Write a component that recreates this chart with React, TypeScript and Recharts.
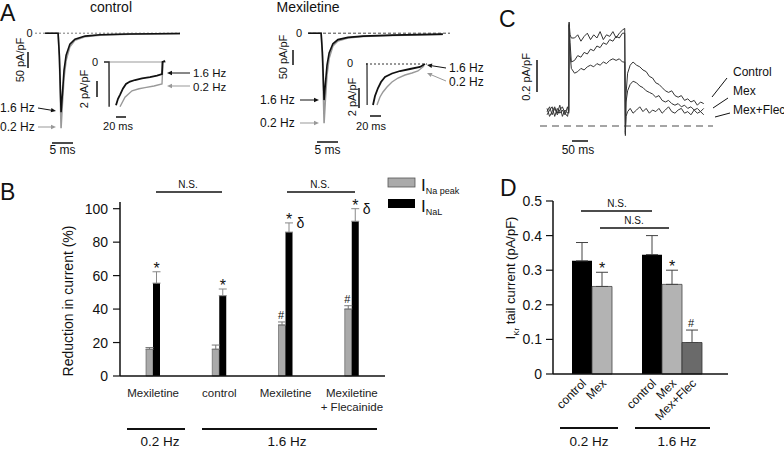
import React from "react";
import {
  BarChart,
  Bar,
  XAxis,
  YAxis,
  ErrorBar,
  LabelList,
  LineChart,
  Line,
  ReferenceLine,
} from "recharts";

const FONT = "'Liberation Sans', Arial, Helvetica, sans-serif";

// ---------- panel A : INa traces (ms, pA/pF)
const aTime = [-3.3, -0.2, 0.1, 0.5, 0.8, 1.2, 1.7, 2.6, 3.8, 6.2, 9.8, 16.9, 28.8];
const ctlFast = [0, 0, -70, -247, -194, -116, -69, -34, -19, -9, -5, -2.5, -1];
const ctlSlow = [0, 0, -80, -297, -225, -140, -85, -42, -22, -11, -6, -3, -1.2];
const mexFast = [0, 0, -60, -209, -160, -100, -62, -33, -20, -13, -9, -6, -3];
const mexSlow = [0, 0, -75, -281, -210, -130, -78, -40, -24, -15, -10, -7, -4];

// insets (late current)
const transientTime = [-10, 0, 0.3];
const ctlTransient = [0, 0, -5.6];
const mexTransient = [0, 0, -4.1];
const ctlInsetTime16 = [14, 18, 22, 28, 34, 42, 52, 66, 82, 96, 106, 107, 112];
const ctlInset16 = [-5.4, -4.6, -4.1, -3.3, -2.75, -2.45, -2.25, -2.05, -1.9, -1.7, -1.5, 0, 0.1];
const ctlInsetTime02 = [22, 32, 46, 60, 72, 90, 106, 108, 112];
const ctlInset02 = [-5.6, -4.4, -3.6, -3.35, -3.2, -3.0, -2.75, 0, 0.2];
const mexInsetTime16 = [12, 16, 22, 28, 36, 50, 66, 86, 106, 116];
const mexInset16 = [-4.1, -3.2, -2.4, -1.8, -1.3, -0.95, -0.7, -0.5, -0.3, 0];
const mexInsetTime02 = [20, 26, 32, 40, 50, 62, 76, 90, 102, 114];
const mexInset02 = [-4.1, -3.3, -2.8, -2.3, -1.8, -1.4, -1.1, -0.9, -0.7, -0.2];

// ---------- panel C : IKr traces (ms, pA/pF)
const cTime = [
  0, 8, 16, 24, 32, 40, 48, 56, 64, 68, 69, 72, 76, 86, 96, 106, 116, 126, 136, 146, 156, 166,
  176, 186, 196, 206, 216, 226, 236, 243, 245, 247, 252, 260, 269, 280, 290, 300, 310, 320, 330,
  340, 350, 360, 370, 380, 390, 400, 410, 420, 430, 440, 450, 460, 470, 480, 490,
];
const cControl = [
  0.09, 0.12, 0.07, 0.11, 0.08, 0.13, 0.06, 0.1, 0.08, 0.09, 0.65, 0.57, 0.55, 0.55, 0.57, 0.53,
  0.56, 0.58, 0.54, 0.57, 0.55, 0.59, 0.54, 0.57, 0.56, 0.59, 0.55, 0.58, 0.6, 0.61, -0.06, 0.2,
  0.33, 0.38, 0.4, 0.38, 0.37, 0.35, 0.34, 0.31, 0.3, 0.27, 0.26, 0.24, 0.22, 0.21, 0.22, 0.19,
  0.18, 0.19, 0.16, 0.17, 0.15, 0.16, 0.13, 0.15, 0.14,
];
const cMex = [
  0.07, 0.1, 0.12, 0.06, 0.11, 0.08, 0.1, 0.07, 0.12, 0.08, 0.64, 0.52, 0.4, 0.41, 0.44, 0.43,
  0.46, 0.45, 0.48, 0.47, 0.5, 0.49, 0.52, 0.51, 0.54, 0.53, 0.56, 0.55, 0.58, 0.58, -0.05, 0.15,
  0.22, 0.26, 0.28, 0.27, 0.25, 0.24, 0.22, 0.21, 0.2, 0.18, 0.19, 0.16, 0.15, 0.16, 0.14, 0.13,
  0.14, 0.12, 0.13, 0.11, 0.12, 0.1, 0.11, 0.09, 0.11,
];
const cMexFlec = [
  0.11, 0.06, 0.09, 0.12, 0.07, 0.1, 0.12, 0.08, 0.06, 0.1, 0.63, 0.45, 0.36, 0.33, 0.34, 0.36,
  0.35, 0.37, 0.38, 0.37, 0.39, 0.38, 0.4, 0.39, 0.41, 0.42, 0.41, 0.42, 0.4, 0.4, -0.04, 0.06,
  0.09, 0.11, 0.08, 0.1, 0.12, 0.09, 0.11, 0.08, 0.1, 0.09, 0.11, 0.08, 0.1, 0.12, 0.09, 0.08,
  0.1, 0.11, 0.08, 0.09, 0.07, 0.1, 0.08, 0.09, 0.07,
];

// ---------- panel B : reduction in current (%)
const bGroups = ["Mexiletine", "control", "Mexiletine", "Mexiletine\n+ Flecainide"];
const naPeak = [16, 16, 30.5, 40];
const naPeakErr = [1, 2.5, 1.8, 2];
const naLate = [55.5, 48, 86, 92.5];
const naLateErr = [6.8, 4, 5.5, 7.5];
const naPeakMarks = ["", "", "#", "#"];
const naLateMarks = ["*", "*", "*δ", "*δ"];
const bTicks = [0, 20, 40, 60, 80, 100];

// ---------- panel D : IKr tail current (pA/pF)
const dGroups = ["0.2 Hz", "1.6 Hz"];
const ikrControl = [0.327, 0.345];
const ikrControlErr = [0.053, 0.055];
const ikrMex = [0.253, 0.259];
const ikrMexErr = [0.041, 0.041];
const ikrMexFlec = [null, 0.091];
const ikrMexFlecErr = [null, 0.036];
const ikrMexMarks = ["*", "*"];
const ikrMexFlecMarks = ["", "#"];
const dTicks = [0, 0.1, 0.2, 0.3, 0.4, 0.5];

const zip = (ts: number[], vs: (number | null)[]) => ts.map((t, i) => ({ t, v: vs[i] }));

const bData = bGroups.map((g, i) => ({
  group: g,
  peak: naPeak[i],
  peakErr: [0, naPeakErr[i]],
  late: naLate[i],
  lateErr: [0, naLateErr[i]],
}));

const dData = dGroups.map((g, i) => ({
  group: g,
  control: ikrControl[i],
  controlErr: [0, ikrControlErr[i]],
  mex: ikrMex[i],
  mexErr: [0, ikrMexErr[i]],
  mexFlec: ikrMexFlec[i],
  mexFlecErr: ikrMexFlec[i] == null ? null : [0, ikrMexFlecErr[i]],
}));

const getBox = (p: any) => {
  const vb = p.viewBox && p.viewBox.width != null ? p.viewBox : p;
  return { x: vb.x, y: vb.y, w: vb.width, h: vb.height };
};

// find which data row a label belongs to (null rows may be skipped by the bar)
const rowOf = (values: (number | null)[], p: any) => {
  if (p.index != null && values[p.index] === p.value) return p.index;
  return values.indexOf(p.value);
};

// significance marks drawn above the error bar of a bar
const makeMarks =
  (values: (number | null)[], errs: (number | null)[], marks: string[], size: number) =>
  (p: any) => {
    const i = rowOf(values, p);
    if (i < 0) return null;
    const m = marks[i];
    const v = values[i];
    if (!m || v == null) return null;
    const { x, y, w, h } = getBox(p);
    const top = y - ((errs[i] || 0) * h) / v;
    const cx = x + w / 2;
    return (
      <g fill="#111">
        {m.includes("*") && (
          <text x={cx} y={top + 2} textAnchor="middle" fontSize={size + 5}>
            *
          </text>
        )}
        {m.includes("#") && (
          <text x={cx - 1} y={top - 3} textAnchor="middle" fontSize={size}>
            #
          </text>
        )}
        {m.includes("δ") && (
          <text x={x + w + 4} y={top + 5.5} fontSize={size + 3}>
            δ
          </text>
        )}
      </g>
    );
  };

// rotated bar name under each bar of panel D
const makeName = (values: (number | null)[], name: string) => (p: any) => {
  const i = rowOf(values, p);
  if (i < 0 || values[i] == null) return null;
  const { x, y, w, h } = getBox(p);
  const ax = x + w / 2 + 5;
  const ay = y + h + 10;
  return (
    <text
      x={ax}
      y={ay}
      textAnchor="end"
      fontSize={12}
      fill="#111"
      transform={`rotate(-45 ${ax} ${ay})`}
    >
      {name}
    </text>
  );
};

const MultiTick = ({ x, y, payload }: any) => {
  const lines = String(payload.value).split("\n");
  return (
    <g>
      {lines.map((l, i) => (
        <text key={i} x={x} y={y + 13 + i * 14} textAnchor="middle" fontSize={11.5} fill="#222">
          {l}
        </text>
      ))}
    </g>
  );
};

type Series = { data: { t: number; v: number | null }[]; color: string; width: number };

const TracePlot = ({
  left,
  top,
  width,
  height,
  xDomain,
  yDomain,
  series,
  zero,
}: {
  left: number;
  top: number;
  width: number;
  height: number;
  xDomain: number[];
  yDomain: number[];
  series: Series[];
  zero: { color: string; dash: string; width: number };
}) => (
  <div style={{ position: "absolute", left, top }}>
    <LineChart width={width} height={height} margin={{ top: 0, right: 0, bottom: 0, left: 0 }}>
      <XAxis type="number" dataKey="t" domain={xDomain} hide allowDataOverflow />
      <YAxis type="number" domain={yDomain} hide allowDataOverflow />
      <ReferenceLine y={0} stroke={zero.color} strokeDasharray={zero.dash} strokeWidth={zero.width} />
      {series.map((s, i) => (
        <Line
          key={i}
          data={s.data}
          dataKey="v"
          type="linear"
          stroke={s.color}
          strokeWidth={s.width}
          dot={false}
          isAnimationActive={false}
        />
      ))}
    </LineChart>
  </div>
);

const Arrow = ({ x1, y1, x2, y2, color }: any) => {
  const a = Math.atan2(y2 - y1, x2 - x1);
  const L = 5;
  const W = 2.2;
  const bx = x2 - L * Math.cos(a);
  const by = y2 - L * Math.sin(a);
  const pts = `${x2},${y2} ${bx + W * Math.sin(a)},${by - W * Math.cos(a)} ${bx - W * Math.sin(a)},${by + W * Math.cos(a)}`;
  return (
    <g>
      <line x1={x1} y1={y1} x2={bx} y2={by} stroke={color} strokeWidth={1} />
      <polygon points={pts} fill={color} />
    </g>
  );
};

const VText = ({ x, y, size, children }: any) => (
  <text transform={`translate(${x},${y}) rotate(-90)`} textAnchor="middle" dy="0.35em" fontSize={size}>
    {children}
  </text>
);

const Overlay = () => (
  <svg
    width={784}
    height={450}
    style={{ position: "absolute", left: 0, top: 0, pointerEvents: "none" }}
    fill="#111"
  >
    {/* panel letters */}
    <text x={0} y={21} fontSize={23}>A</text>
    <text x={0} y={200} fontSize={23}>B</text>
    <text x={499} y={27} fontSize={23}>C</text>
    <text x={500} y={196} fontSize={23}>D</text>

    {/* panel A */}
    <text x={111} y={12} fontSize={14} textAnchor="middle">control</text>
    <text x={308} y={12} fontSize={14} textAnchor="middle">Mexiletine</text>
    <text x={29.5} y={37} fontSize={11} textAnchor="middle">0</text>
    <text x={299} y={37} fontSize={11} textAnchor="middle">0</text>
    <line x1={28} y1={52} x2={28} y2={68} stroke="#111" strokeWidth={1.5} />
    <VText x={20} y={60} size={11}>50 pA/pF</VText>
    <line x1={293} y1={50} x2={293} y2={65} stroke="#111" strokeWidth={1.5} />
    <VText x={283} y={57} size={11}>50 pA/pF</VText>
    <text x={0} y={112} fontSize={12}>1.6 Hz</text>
    <text x={0} y={131} fontSize={12}>0.2 Hz</text>
    <Arrow x1={38} y1={108} x2={56} y2={111} color="#111" />
    <Arrow x1={38} y1={127} x2={56} y2={127} color="#999" />
    <text x={260} y={104} fontSize={12}>1.6 Hz</text>
    <text x={260} y={127} fontSize={12}>0.2 Hz</text>
    <Arrow x1={300} y1={100} x2={319} y2={100} color="#111" />
    <Arrow x1={300} y1={123} x2={319} y2={123} color="#999" />
    <line x1={52} y1={143} x2={73} y2={143} stroke="#111" strokeWidth={1.5} />
    <text x={62.5} y={154} fontSize={12} textAnchor="middle">5 ms</text>
    <line x1={317} y1={142} x2={338} y2={142} stroke="#111" strokeWidth={1.5} />
    <text x={327.5} y={154} fontSize={12} textAnchor="middle">5 ms</text>

    {/* insets */}
    <text x={95} y={66} fontSize={11} textAnchor="middle">0</text>
    <line x1={97} y1={81} x2={97} y2={97} stroke="#111" strokeWidth={1.5} />
    <VText x={84} y={89} size={11}>2 pA/pF</VText>
    <line x1={116} y1={117} x2={126} y2={117} stroke="#111" strokeWidth={1.5} />
    <text x={118} y={130} fontSize={11} textAnchor="middle">20 ms</text>
    <Arrow x1={190} y1={73} x2={167} y2={73} color="#111" />
    <Arrow x1={190} y1={86} x2={167} y2={86} color="#999" />
    <text x={193} y={77} fontSize={11.5}>1.6 Hz</text>
    <text x={193} y={90.5} fontSize={11.5}>0.2 Hz</text>

    <text x={350} y={67} fontSize={11} textAnchor="middle">0</text>
    <line x1={359} y1={88} x2={359} y2={108} stroke="#111" strokeWidth={1.5} />
    <VText x={352} y={97} size={11}>2 pA/pF</VText>
    <line x1={370} y1={116} x2={381} y2={116} stroke="#111" strokeWidth={1.5} />
    <text x={371} y={130} fontSize={11} textAnchor="middle">20 ms</text>
    <Arrow x1={446} y1={68} x2={427} y2={65} color="#111" />
    <Arrow x1={446} y1={81} x2={427} y2={73} color="#999" />
    <text x={449} y={72} fontSize={12}>1.6 Hz</text>
    <text x={449} y={86} fontSize={12}>0.2 Hz</text>

    {/* panel C */}
    <line x1={537} y1={60} x2={537} y2={92} stroke="#111" strokeWidth={1.5} />
    <VText x={526} y={77} size={11}>0.2 pA/pF</VText>
    <line x1={572} y1={141} x2={588} y2={141} stroke="#111" strokeWidth={1.5} />
    <text x={578} y={154} fontSize={12} textAnchor="middle">50 ms</text>
    <text x={733} y={76} fontSize={12}>Control</text>
    <text x={733} y={95} fontSize={12}>Mex</text>
    <text x={733} y={114} fontSize={12}>Mex+Flec</text>
    <line x1={712} y1={97} x2={727} y2={78} stroke="#111" />
    <line x1={713} y1={108} x2={728} y2={98} stroke="#111" />
    <line x1={715} y1={117} x2={730} y2={113} stroke="#111" />

    {/* panel B annotations */}
    <VText x={68} y={301} size={14}>Reduction in current (%)</VText>
    <text x={188} y={188} fontSize={10} textAnchor="middle">N.S.</text>
    <line x1={156} y1={192} x2={222} y2={192} stroke="#111" strokeWidth={1.5} />
    <text x={320} y={188} fontSize={10} textAnchor="middle">N.S.</text>
    <line x1={287} y1={192} x2={355} y2={192} stroke="#111" strokeWidth={1.5} />
    <rect x={388} y={178} width={27} height={9} fill="#aaa" stroke="#555" strokeWidth={0.8} />
    <text x={421} y={191} fontSize={17}>
      I<tspan fontSize={9} dy={3}>Na peak</tspan>
    </text>
    <rect x={388} y={199} width={27} height={9} fill="#000" />
    <text x={421} y={212} fontSize={17}>
      I<tspan fontSize={9} dy={3}>NaL</tspan>
    </text>
    <line x1={127} y1={429} x2={185} y2={429} stroke="#111" strokeWidth={2} />
    <text x={160} y={446} fontSize={13.5} textAnchor="middle">0.2 Hz</text>
    <line x1={202} y1={429} x2={377} y2={429} stroke="#111" strokeWidth={2} />
    <text x={287} y={446} fontSize={13.5} textAnchor="middle">1.6 Hz</text>

    {/* panel D annotations */}
    <text transform="translate(510,278) rotate(-90)" textAnchor="middle" dy="0.35em" fontSize={13}>
      I<tspan fontSize={8} dy={4}>Kr</tspan>
      <tspan dy={-4}> tail current (pA/pF)</tspan>
    </text>
    <text x={617} y={207} fontSize={10} textAnchor="middle">N.S.</text>
    <line x1={581} y1={211} x2={652} y2={211} stroke="#111" strokeWidth={1.5} />
    <text x={634} y={224} fontSize={10} textAnchor="middle">N.S.</text>
    <line x1={600} y1={228} x2={669} y2={228} stroke="#111" strokeWidth={1.5} />
    <line x1={560} y1={428} x2={618} y2={428} stroke="#111" strokeWidth={2} />
    <text x={589} y={446} fontSize={13.5} textAnchor="middle">0.2 Hz</text>
    <line x1={635} y1={428} x2={710} y2={428} stroke="#111" strokeWidth={2} />
    <text x={677} y={446} fontSize={13.5} textAnchor="middle">1.6 Hz</text>
  </svg>
);

const App = () => {
  return (
    <div
      style={{
        position: "absolute",
        left: 0,
        top: 0,
        width: 784,
        height: 450,
        background: "#fff",
        overflow: "hidden",
        fontFamily: FONT,
      }}
    >
      {/* A: peak INa */}
      <TracePlot
        left={35}
        top={29.8}
        width={145}
        height={102.4}
        xDomain={[-5.7, 28.8]}
        yDomain={[-310, 10]}
        zero={{ color: "#777", dash: "2 2", width: 1 }}
        series={[
          { data: zip(aTime, ctlSlow), color: "#999", width: 1.6 },
          { data: zip(aTime, ctlFast), color: "#111", width: 1.6 },
        ]}
      />
      <TracePlot
        left={308}
        top={29.8}
        width={142}
        height={102.4}
        xDomain={[-3.33, 30.5]}
        yDomain={[-310, 10]}
        zero={{ color: "#444", dash: "3 2", width: 1 }}
        series={[
          { data: zip(aTime, mexSlow), color: "#999", width: 1.6 },
          { data: zip(aTime, mexFast), color: "#111", width: 1.6 },
        ]}
      />
      {/* A insets: late INa */}
      <TracePlot
        left={104}
        top={58}
        width={62}
        height={52}
        xDomain={[-10, 114]}
        yDomain={[-6, 0.5]}
        zero={{ color: "#999", dash: "", width: 1.2 }}
        series={[
          { data: zip(transientTime, ctlTransient), color: "#333", width: 1.5 },
          { data: zip(ctlInsetTime02, ctlInset02), color: "#999", width: 1.4 },
          { data: zip(ctlInsetTime16, ctlInset16), color: "#111", width: 1.8 },
        ]}
      />
      <TracePlot
        left={366}
        top={59}
        width={61}
        height={50}
        xDomain={[-2, 120]}
        yDomain={[-4.5, 0.5]}
        zero={{ color: "#333", dash: "2 2", width: 1 }}
        series={[
          { data: zip(transientTime, mexTransient), color: "#333", width: 1.3 },
          { data: zip(mexInsetTime02, mexInset02), color: "#999", width: 1.4 },
          { data: zip(mexInsetTime16, mexInset16), color: "#111", width: 1.8 },
        ]}
      />
      {/* C: IKr traces */}
      <TracePlot
        left={540}
        top={14}
        width={173}
        height={128}
        xDomain={[-22, 519]}
        yDomain={[-0.1, 0.7]}
        zero={{ color: "#888", dash: "7 5", width: 1.5 }}
        series={[
          { data: zip(cTime, cMexFlec), color: "#333", width: 1 },
          { data: zip(cTime, cMex), color: "#333", width: 1 },
          { data: zip(cTime, cControl), color: "#333", width: 1 },
        ]}
      />

      {/* B */}
      <div style={{ position: "absolute", left: 0, top: 0 }}>
        <BarChart
          width={400}
          height={450}
          data={bData}
          margin={{ top: 202, right: 15, bottom: 44, left: 60 }}
          barGap={0}
          barSize={7}
        >
          <XAxis
            dataKey="group"
            height={30}
            tickLine={false}
            axisLine={{ stroke: "#111", strokeWidth: 1.5 }}
            tick={<MultiTick />}
            interval={0}
          />
          <YAxis
            width={60}
            domain={[0, 104]}
            ticks={bTicks}
            tickSize={7}
            tickMargin={5}
            axisLine={{ stroke: "#111", strokeWidth: 1.5 }}
            tickLine={{ stroke: "#111", strokeWidth: 1.2 }}
            tick={{ fill: "#111", fontSize: 14 }}
          />
          <Bar dataKey="peak" fill="#aaa" stroke="#555" strokeWidth={0.6} isAnimationActive={false}>
            <ErrorBar dataKey="peakErr" width={4} stroke="#777" strokeWidth={1} />
            <LabelList dataKey="peak" content={makeMarks(naPeak, naPeakErr, naPeakMarks, 11)} />
          </Bar>
          <Bar dataKey="late" fill="#000" isAnimationActive={false}>
            <ErrorBar dataKey="lateErr" width={4} stroke="#888" strokeWidth={1} />
            <LabelList dataKey="late" content={makeMarks(naLate, naLateErr, naLateMarks, 11)} />
          </Bar>
        </BarChart>
      </div>

      {/* D */}
      <div style={{ position: "absolute", left: 400, top: 0 }}>
        <BarChart
          width={384}
          height={450}
          data={dData}
          margin={{ top: 201, right: 56, bottom: 46, left: 103 }}
          barGap={0}
          barSize={20}
        >
          <XAxis
            dataKey="group"
            height={30}
            tick={false}
            tickLine={false}
            axisLine={{ stroke: "#111", strokeWidth: 1.5 }}
            padding={{ left: 14, right: 21 }}
          />
          <YAxis
            width={50}
            domain={[0, 0.5]}
            ticks={dTicks}
            tickSize={7}
            tickMargin={4}
            axisLine={{ stroke: "#111", strokeWidth: 1.5 }}
            tickLine={{ stroke: "#111", strokeWidth: 1.2 }}
            tick={{ fill: "#111", fontSize: 14 }}
          />
          <Bar dataKey="control" fill="#000" isAnimationActive={false}>
            <ErrorBar dataKey="controlErr" width={6} stroke="#444" strokeWidth={1} />
            <LabelList dataKey="control" content={makeName(ikrControl, "control")} />
          </Bar>
          <Bar dataKey="mex" fill="#b3b3b3" stroke="#444" strokeWidth={0.8} isAnimationActive={false}>
            <ErrorBar dataKey="mexErr" width={6} stroke="#444" strokeWidth={1} />
            <LabelList dataKey="mex" content={makeName(ikrMex, "Mex")} />
            <LabelList dataKey="mex" content={makeMarks(ikrMex, ikrMexErr, ikrMexMarks, 11)} />
          </Bar>
          <Bar dataKey="mexFlec" fill="#6a6a6a" stroke="#333" strokeWidth={0.8} isAnimationActive={false}>
            <ErrorBar dataKey="mexFlecErr" width={6} stroke="#444" strokeWidth={1} />
            <LabelList dataKey="mexFlec" content={makeName(ikrMexFlec, "Mex+Flec")} />
            <LabelList
              dataKey="mexFlec"
              content={makeMarks(ikrMexFlec, ikrMexFlecErr, ikrMexFlecMarks, 11)}
            />
          </Bar>
        </BarChart>
      </div>

      <Overlay />
    </div>
  );
};

export default App;
